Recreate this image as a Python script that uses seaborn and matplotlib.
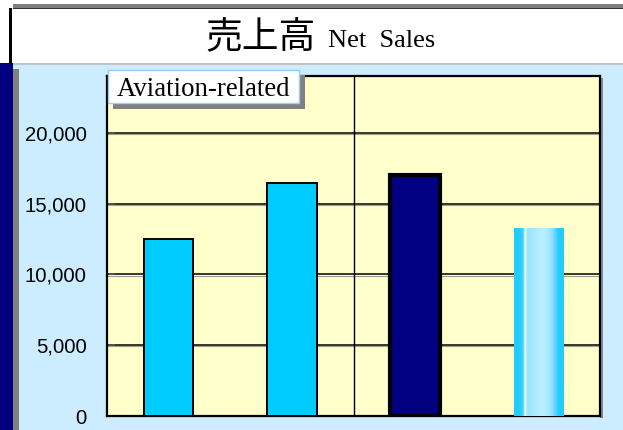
import matplotlib
matplotlib.use("Agg")
import matplotlib.pyplot as plt
from matplotlib.patches import Rectangle
from matplotlib.colors import to_rgb
import numpy as np
import pandas as pd
import seaborn as sns

# ---- data ----
categories = ["FY1", "FY2", "FY3", "FY4"]
net_sales = [12500, 16450, 17000, 13300]
bar_colors = ["#00CCFF", "#00CCFF", "#000080", "#22CCFF"]
y_ticks = [0, 5000, 10000, 15000, 20000]
title_jp = "売上高"
title_en = "Net  Sales"
segment_label = "Aviation-related"

W, H = 623, 430
fig = plt.figure(figsize=(W / 100, H / 100), dpi=100)
fig.patch.set_facecolor("white")


def rect(x0, y0, x1, y1, color, z=-1):
    """pixel rect (top-left origin) into figure coords"""
    fig.patches.append(Rectangle((x0 / W, 1 - y1 / H), (x1 - x0) / W, (y1 - y0) / H,
                                 transform=fig.transFigure, facecolor=color,
                                 edgecolor="none", zorder=z))

# background decorations
rect(13, 4, W, 9, "#7F7F7F")
rect(13, 8, W, 9, "#333333")
rect(12, 9, W, 63, "white")
rect(9, 8, 12, 63, "#000000")
rect(13, 63, W, H, "#CCECFF")
rect(13, 63, W, 65, "#C0C4C8")
rect(0, 63, 13, H, "#000080")
rect(13, 69, 19, H, "#808080")
rect(600, 78, 603, 418, "#7F8A90")  # plot-area right shadow

# title
fig.text(205 / W, 1 - 48 / H, title_jp, ha="left", va="baseline", fontsize=26.5,
         family=["Noto Sans CJK JP", "DejaVu Sans"], color="black")
fig.text(328 / W, 1 - 47 / H, title_en, ha="left", va="baseline", fontsize=19,
         family=["Liberation Serif", "DejaVu Serif"], color="black")

# axes
ax = fig.add_axes([107 / W, 1 - 416 / H, (600 - 107) / W, (416 - 76) / H])
ax.set_zorder(2)
ax.set_facecolor("#FFFFCC")
df = pd.DataFrame({"cat": categories, "sales": net_sales})
sns.barplot(data=df, x="cat", y="sales", hue="cat", palette=bar_colors,
            width=0.4, legend=False, ax=ax, zorder=3, saturation=1)
ax.set_ylim(0, 24000)
ax.set_xlim(-0.5, len(categories) - 0.5)
ax.set_yticks(y_ticks)
ax.set_yticklabels([f"{v:,}" for v in y_ticks], fontsize=14.6,
                   family=["Liberation Sans", "DejaVu Sans"])
ax.set_xticks([])
ax.set_xlabel("")
ax.set_ylabel("")
ax.tick_params(axis="y", direction="in", length=6, width=1.2, color="#555555", pad=14.5)
for v in y_ticks[1:]:
    ax.axhline(v - 90, color="#A0A088", lw=0.8, zorder=1)
    ax.axhline(v, color="black", lw=1.1, zorder=1.5)
ax.axvline(1.5, color="black", lw=1.0, zorder=1.5)
for s in ax.spines.values():
    s.set_color("black")
    s.set_linewidth(1.6)

patches = list(ax.patches)
for i, p in enumerate(patches):
    if i in (0, 1):
        p.set_edgecolor("black"); p.set_linewidth(1.4)
    elif i == 2:
        p.set_edgecolor("black"); p.set_linewidth(3.0)
    else:
        p.set_edgecolor("none")
        # cylinder-like gradient fill
        stops = ["#22CCFF", "#22CCFF", "#44D4FF", "#FFFFDD", "#98E4FF", "#B4EEFF",
                 "#B8F0FF", "#98E2FF", "#66D8FF", "#22CCFF", "#22CCFF"]
        pos = [0, 0.1, 0.18, 0.22, 0.26, 0.5, 0.62, 0.75, 0.82, 0.9, 1]
        xs = np.linspace(0, 1, 60)
        rgb = np.array([to_rgb(c) for c in stops])
        grad = np.stack([np.interp(xs, pos, rgb[:, k]) for k in range(3)], axis=-1)
        grad = grad[np.newaxis, :, :]
        x0, w, h = p.get_x(), p.get_width(), p.get_height()
        im = ax.imshow(grad, extent=[x0, x0 + w, 0, h], aspect="auto",
                       interpolation="bilinear", zorder=3.5)
        im.set_clip_path(p)
ax.set_xlim(-0.5, len(categories) - 0.5)
ax.set_ylim(0, 24000)

# segment label box with shadow
rect(113, 75, 305, 109, "#808080", z=5)
fig.patches.append(Rectangle((108 / W, 1 - 103 / H), (299 - 108) / W, (103 - 70) / H,
                             transform=fig.transFigure, facecolor="white",
                             edgecolor="#99CCFF", lw=1.0, zorder=6))
fig.text(117 / W, 1 - 96 / H, segment_label, ha="left", va="baseline", fontsize=19.3,
         family=["Liberation Serif", "DejaVu Serif"], color="black", zorder=7)

fig.savefig("out.png", dpi=100)
